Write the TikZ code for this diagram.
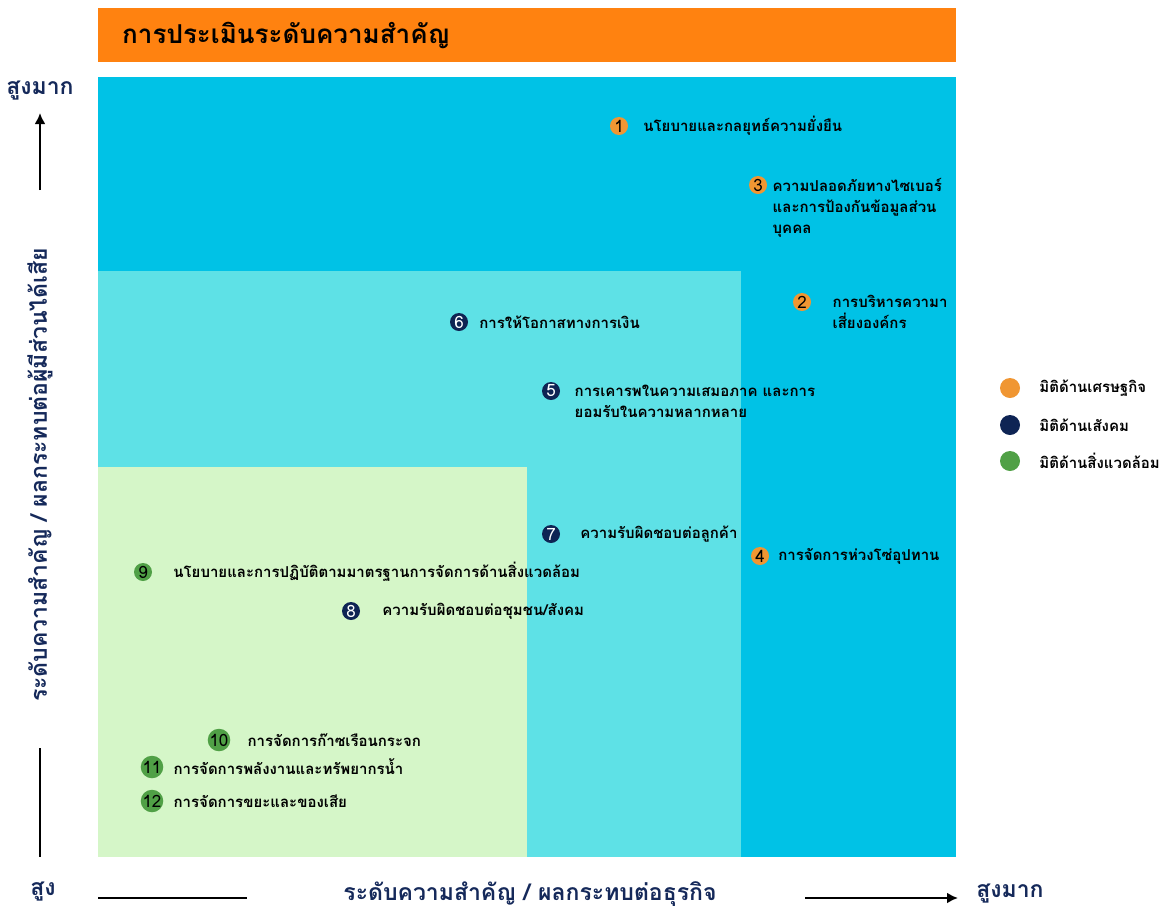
\documentclass[tikz,border=0pt]{standalone}
\usepackage{fontspec}
\setmainfont[Script=Thai]{Loma}
\usetikzlibrary{positioning,arrows.meta}
\definecolor{titleorange}{RGB}{255,130,16}
\definecolor{zonehigh}{RGB}{0,194,230}
\definecolor{zonemid}{RGB}{94,225,230}
\definecolor{zonelow}{RGB}{213,246,200}
\definecolor{dotorange}{RGB}{240,150,50}
\definecolor{dotnavy}{RGB}{14,36,84}
\definecolor{dotgreen}{RGB}{80,160,70}
\definecolor{axisnavy}{RGB}{21,41,90}
\begin{document}
\begin{tikzpicture}[x=1pt,y=-1pt,
    dot/.style={circle,minimum size=18pt,inner sep=0pt,font=\fontsize{17}{17}\selectfont},
    econ/.style={dot,fill=dotorange,text=black},
    social/.style={dot,fill=dotnavy,text=white},
    envi/.style={dot,fill=dotgreen,text=black},
    issue/.style={anchor=west,inner sep=0pt,align=left,font=\bfseries\fontsize{15}{21}\selectfont},
    axislabel/.style={text=axisnavy,inner sep=0pt,font=\bfseries\fontsize{23}{23}\selectfont},
    axisline/.style={line width=2.5pt},
    axisarrow/.style={axisline,-{Latex[length=11pt,width=11pt]}}]
    \useasboundingbox (0,0) rectangle (1176,911);
    % zones
    \fill[titleorange] (98,8) rectangle (956,62);
    \node[anchor=west,inner sep=0pt,font=\bfseries\fontsize{26}{26}\selectfont] (title) at (122,35) {การประเมินระดับความสำคัญ};
    \fill[zonehigh] (98,77) rectangle (956,857);
    \fill[zonemid] (98,271) rectangle (741,857);
    \fill[zonelow] (98,467) rectangle (527,857);
    % issues
    \node[econ] (m1) at (619,126) {1};
    \node[issue, right=15pt of m1] (t1) {นโยบายและกลยุทธ์ความยั่งยืน};
    \node[econ] (m3) at (758,185) {3};
    \node[issue, anchor=north west, xshift=8pt] (t3) at (m3.north east) {ความปลอดภัยทางไซเบอร์\\และการป้องกันข้อมูลส่วน\\บุคคล};
    \node[econ] (m2) at (802,302) {2};
    \node[issue, anchor=north west, xshift=24pt] (t2) at (m2.north east) {การบริหารความา\\เสี่ยงองค์กร};
    \node[social] (m6) at (459,322) {6};
    \node[issue, right=11pt of m6] (t6) {การให้โอกาสทางการเงิน};
    \node[social] (m5) at (551,391) {5};
    \node[issue, anchor=north west, xshift=17pt] (t5) at (m5.north east) {การเคารพในความเสมอภาค และการ\\ยอมรับในความหลากหลาย};
    \node[social] (m7) at (551,534) {7};
    \node[issue, right=20pt of m7] (t7) {ความรับผิดชอบต่อลูกค้า};
    \node[econ] (m4) at (760,556) {4};
    \node[issue, right=9pt of m4] (t4) {การจัดการห่วงโซ่อุปทาน};
    \node[envi] (m9) at (143,572) {9};
    \node[issue, right=21pt of m9] (t9) {นโยบายและการปฏิบัติตามมาตรฐานการจัดการด้านสิ่งแวดล้อม};
    \node[social] (m8) at (351,611) {8};
    \node[issue, right=22pt of m8] (t8) {ความรับผิดชอบต่อชุมชน/สังคม};
    \node[envi] (m10) at (219,740) {10};
    \node[issue, right=17pt of m10] (t10) {การจัดการก๊าซเรือนกระจก};
    \node[envi] (m11) at (152,767) {11};
    \node[issue, right=10pt of m11] (t11) {การจัดการพลังงานและทรัพยากรน้ำ};
    \node[envi] (m12) at (152,801) {12};
    \node[issue, right=10pt of m12] (t12) {การจัดการขยะและของเสีย};
    % legend
    \node[econ,minimum size=20pt] (l1) at (1010,388) {};
    \node[issue, right=19pt of l1] (lt1) {มิติด้านเศรษฐกิจ};
    \node[social,minimum size=20pt] (l2) at (1010,425) {};
    \node[issue, right=19pt of l2] (lt2) {มิติด้านเสังคม};
    \node[envi,minimum size=20pt] (l3) at (1010,461) {};
    \node[issue, right=19pt of l3] (lt3) {มิติด้านสิ่งแวดล้อม};
    % vertical axis
    \node[axislabel] (ytop) at (40,91) {สูงมาก};
    \node[axislabel,rotate=90] (ylab) at (40,475) {ระดับความสำคัญ / ผลกระทบต่อผู้มีส่วนได้เสีย};
    \coordinate (yup1) at (40,190);
    \coordinate (yup2) at (40,113);
    \coordinate (ylow1) at (40,748);
    \coordinate (ylow2) at (40,857);
    \draw[axisarrow] (yup1) -- (yup2);
    \draw[axisline] (ylow1) -- (ylow2);
    % horizontal axis
    \node[axislabel] (xlow) at (43,892) {สูง};
    \node[axislabel] (xlab) at (530,894) {ระดับความสำคัญ / ผลกระทบต่อธุรกิจ};
    \node[axislabel] (xtop) at (1010,894) {สูงมาก};
    \coordinate (xl1) at (98,898);
    \coordinate (xl2) at (247,898);
    \coordinate (xr1) at (805,898);
    \coordinate (xr2) at (958,898);
    \draw[axisline] (xl1) -- (xl2);
    \draw[axisarrow] (xr1) -- (xr2);
\end{tikzpicture}
\end{document}
